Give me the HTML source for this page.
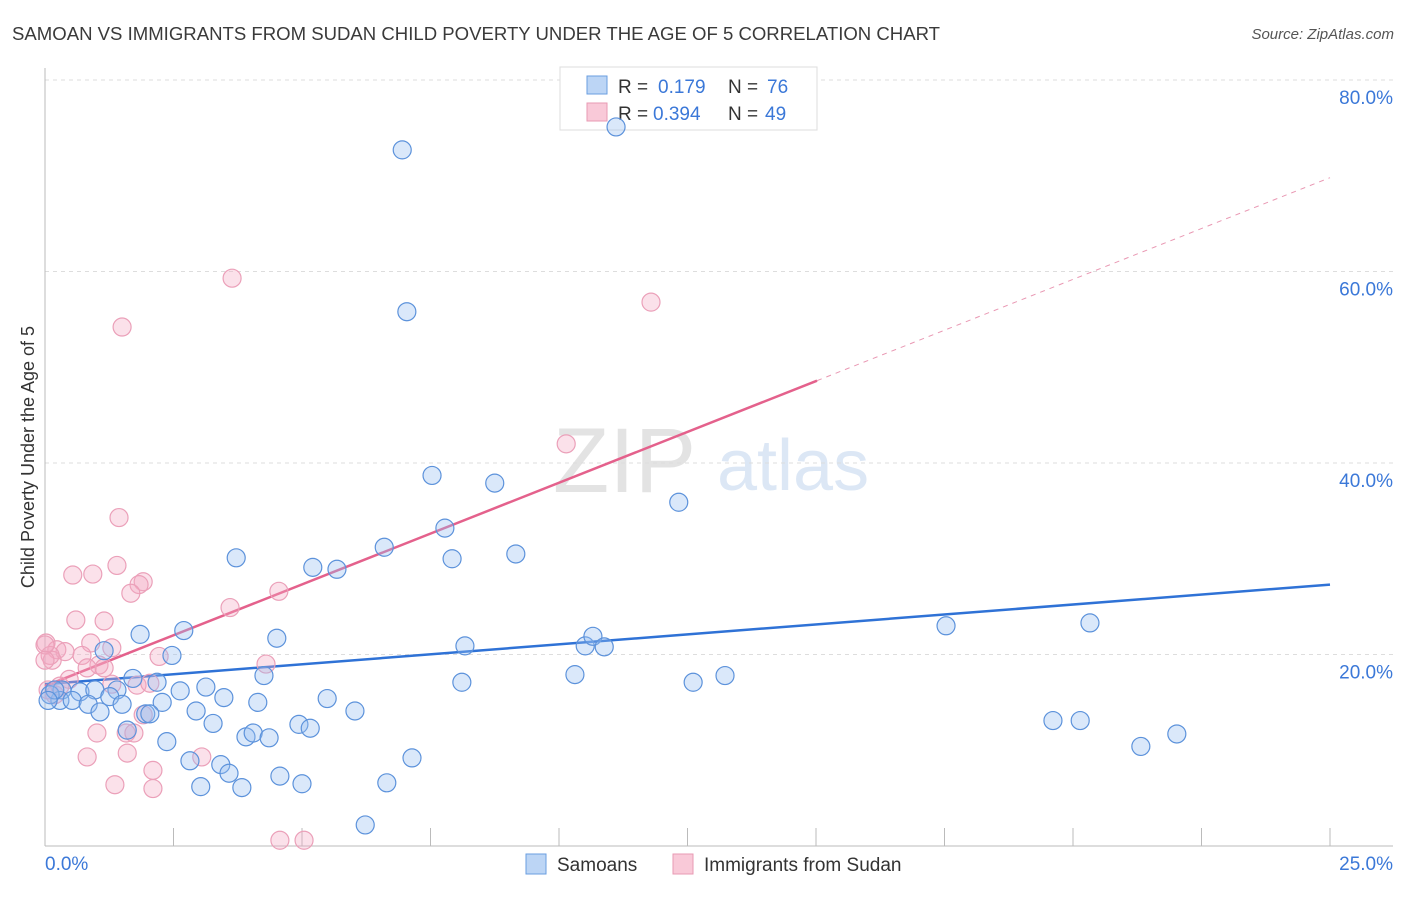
<!DOCTYPE html>
<html><head><meta charset="utf-8"><style>
body{margin:0;background:#fff;font-family:"Liberation Sans",sans-serif;}
svg text{font-family:"Liberation Sans",sans-serif;}
</style></head><body>
<svg id="chart" width="1406" height="892" xmlns="http://www.w3.org/2000/svg">
<text x="12" y="40" font-size="18" fill="#3a3a3a" textLength="928" lengthAdjust="spacingAndGlyphs">SAMOAN VS IMMIGRANTS FROM SUDAN CHILD POVERTY UNDER THE AGE OF 5 CORRELATION CHART</text>
<text x="1394" y="39" font-size="15" fill="#555" text-anchor="end" font-style="italic">Source: ZipAtlas.com</text>
<g opacity="0.4">
<text x="553" y="492" font-size="92" fill="#bbb" font-family="Liberation Serif, serif">ZIP</text>
<text x="717" y="490" font-size="72" fill="#a9c4e8">atlas</text>
</g>
<g id="grid"></g>
<g id="axes"></g>
<g>
<rect x="560" y="67" width="257" height="63" fill="#fff" stroke="#ddd"/>
<rect x="587" y="76" width="20" height="18" fill="#bcd5f5" stroke="#6a9ee0"/>
<rect x="587" y="103" width="20" height="18" fill="#f9c9d8" stroke="#e89ab3"/>
<text x="618" y="93" font-size="19" fill="#333">R = </text><text x="658" y="93" font-size="19" fill="#3b78d8">0.179</text>
<text x="728" y="93" font-size="19" fill="#333">N = </text><text x="767" y="93" font-size="19" fill="#3b78d8">76</text>
<text x="618" y="120" font-size="19" fill="#333">R = </text><text x="653" y="120" font-size="19" fill="#3b78d8">0.394</text>
<text x="728" y="120" font-size="19" fill="#333">N = </text><text x="765" y="120" font-size="19" fill="#3b78d8">49</text>
</g>
<g id="lines"></g>
<g id="points"></g>
<text transform="translate(34,457) rotate(-90)" font-size="18" fill="#333" text-anchor="middle">Child Poverty Under the Age of 5</text>
<g>
<rect x="526" y="854" width="20" height="20" fill="#bcd5f5" stroke="#6a9ee0"/>
<text x="557" y="871" font-size="19" fill="#333">Samoans</text>
<rect x="673" y="854" width="20" height="20" fill="#f9c9d8" stroke="#e89ab3"/>
<text x="704" y="871" font-size="19" fill="#333">Immigrants from Sudan</text>
</g>
</svg>
<script>
const blueX=[6.95,11.11,7.04,7.53,8.75,12.33,7.78,6.60,7.92,9.16,3.72,5.21,5.68,1.85,2.70,4.51,8.17,10.51,10.66,10.88,17.53,20.33,2.47,1.15,1.71,2.18,2.63,3.13,4.26,8.11,10.31,12.61,13.23,0.33,0.68,0.97,1.40,0.29,0.53,0.84,1.26,1.50,2.28,3.48,4.14,5.49,1.07,1.96,2.04,2.94,3.27,6.03,1.60,2.37,3.91,4.05,4.36,4.94,5.16,19.61,20.14,21.32,22.02,2.82,3.42,3.58,4.57,7.14,3.03,3.83,5.00,6.65,6.23,0.10,0.19,0.06];
const blueY=[72.7,75.1,55.8,38.7,37.9,35.9,33.2,31.2,30.0,30.5,30.1,29.1,28.9,22.1,22.5,21.7,20.9,20.9,21.9,20.8,23.0,23.3,19.9,20.4,17.5,17.1,16.2,16.6,17.8,17.1,17.9,17.1,17.8,16.3,16.1,16.3,16.3,15.2,15.2,14.8,15.6,14.8,15.0,15.5,15.0,15.4,14.0,13.8,13.8,14.1,12.8,14.1,12.1,10.9,11.4,11.8,11.3,12.7,12.3,13.1,13.1,10.4,11.7,8.9,8.5,7.6,7.3,9.2,6.2,6.1,6.5,6.6,2.2,15.8,16.3,15.2];
const pinkX=[3.64,1.50,11.79,10.14,1.44,0.54,0.93,1.40,1.91,1.83,1.67,4.55,3.60,0.60,1.15,0.02,0.23,0.39,0.89,1.30,0.72,0.14,1.05,0.82,1.15,2.22,0.47,1.30,1.79,2.04,4.30,1.58,1.01,0.82,1.60,2.10,1.73,1.91,3.05,1.36,2.10,4.57,5.04,0.19,0.06,0.29,0.10,0.0,0.0];
const pinkY=[59.3,54.2,56.8,42.0,34.3,28.3,28.4,29.3,27.6,27.3,26.4,26.6,24.9,23.6,23.5,21.2,20.5,20.3,21.2,20.7,19.9,19.4,18.9,18.6,18.6,19.8,17.4,16.9,16.8,17.0,19.0,11.8,11.8,9.3,9.7,7.9,11.8,13.7,9.3,6.4,6.0,0.6,0.6,15.8,16.3,16.7,19.9,21.0,19.4];
const blueTrend=[16.9,27.3];      // y at x=0 and x=25
const pinkTrend=[16.7,48.6,69.8]; // y at x=0, x=15.02 (solid end), x=25
const pinkSolidEnd=15.02;
const yTicks=[20,40,60,80];
const xTickLabels=["0.0%","25.0%"];

const NS="http://www.w3.org/2000/svg";
const X=v=>45+v/25*1285;
const Y=v=>846-v/20*191.5;
function mk(tag,attrs,parent){const e=document.createElementNS(NS,tag);for(const k in attrs)e.setAttribute(k,attrs[k]);parent.appendChild(e);return e;}
const grid=document.getElementById('grid'),axes=document.getElementById('axes'),lines=document.getElementById('lines'),pts=document.getElementById('points');
yTicks.forEach(t=>{
  const l=mk('line',{x1:45,x2:1393,y1:Y(t),y2:Y(t),stroke:'#ddd','stroke-dasharray':'4,4'},grid);
  
  
  const tx=mk('text',{x:1393,y:Y(t)+24,'font-size':19,fill:'#3b78d8','text-anchor':'end'},axes);
  tx.textContent=t.toFixed(1)+'%';
  
  
});
mk('line',{x1:45,x2:45,y1:68,y2:846,stroke:'#bbb'},axes);
mk('line',{x1:45,x2:1393,y1:846,y2:846,stroke:'#bbb'},axes);
for(let i=1;i<=10;i++){const t=mk('line',{x1:X(i*2.5),x2:X(i*2.5),y1:828,y2:846,stroke:'#bbb'},axes);}
const xl0=mk('text',{x:45,y:870,'font-size':19,fill:'#3b78d8'},axes);xl0.textContent=xTickLabels[0];


const xl1=mk('text',{x:1393,y:870,'font-size':19,fill:'#3b78d8','text-anchor':'end'},axes);xl1.textContent=xTickLabels[1];



function dot(x,y,fill,stroke,name){const c=mk('circle',{cx:X(x),cy:Y(y),r:9,fill:fill,stroke:stroke,'stroke-width':1.2},pts);
  
  }
pinkX.forEach((x,i)=>dot(x,pinkY[i],'rgba(244,170,195,0.35)','#eba0b9','sudan-point'));
blueX.forEach((x,i)=>dot(x,blueY[i],'rgba(150,190,240,0.35)','#5c92db','samoan-point'));

const bl=mk('line',{x1:X(0),y1:Y(blueTrend[0]),x2:X(25),y2:Y(blueTrend[1]),stroke:'#2f72d6','stroke-width':2.5},lines);


const pl=mk('line',{x1:X(0),y1:Y(pinkTrend[0]),x2:X(pinkSolidEnd),y2:Y(pinkTrend[1]),stroke:'#e4618c','stroke-width':2.5},lines);


const pd=mk('line',{x1:X(pinkSolidEnd),y1:Y(pinkTrend[1]),x2:X(25),y2:Y(pinkTrend[2]),stroke:'#e998b3','stroke-width':1,'stroke-dasharray':'5,5'},lines);


</script>
</body></html>
